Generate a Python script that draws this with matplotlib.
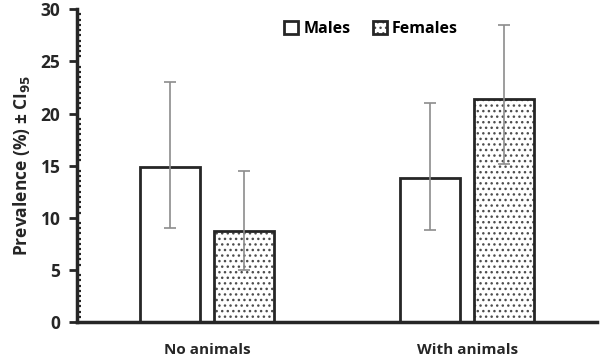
import numpy as np
from matplotlib import pyplot as plt
from matplotlib.ticker import MultipleLocator

plt.rcParams['font.family'] = ['Open Sans', 'DejaVu Sans']
plt.rcParams['hatch.linewidth'] = 1.0

groups = ['No animals', 'With animals']
males = [14.9, 13.8]
males_lo = [9.05, 8.8]
males_hi = [23.0, 21.05]
females = [8.7, 21.4]
females_lo = [5.0, 15.2]
females_hi = [14.5, 28.5]

fig = plt.figure(figsize=(6.02, 3.57), dpi=100)
ax = fig.add_axes([0.128, 0.098, 0.864, 0.876])

x = np.arange(len(groups))
w = 0.23
off = 0.143
edge = '#262626'
err_kw = dict(ecolor='#8c8c8c', elinewidth=1.2, capsize=4, capthick=1.2)

m_err = [np.array(males) - np.array(males_lo), np.array(males_hi) - np.array(males)]
f_err = [np.array(females) - np.array(females_lo), np.array(females_hi) - np.array(females)]

ax.bar(x - off, males, w, color='white', edgecolor=edge, linewidth=2.0,
       yerr=m_err, error_kw=err_kw, label='Males')
fb = ax.bar(x + off, females, w, color='white', edgecolor=edge, linewidth=2.0,
            hatch='...', yerr=f_err, error_kw=err_kw, label='Females')
for p in fb:
    p._hatch_color = (0.3, 0.3, 0.3, 1.0)

ax.set_xlim(-0.5, 1.5)
ax.set_ylim(0, 30)
ax.yaxis.set_major_locator(MultipleLocator(5))
ax.yaxis.set_minor_locator(MultipleLocator(0.5))
ax.tick_params(axis='y', which='major', direction='out', length=6, width=2,
               color=edge, labelsize=12.5, pad=6)
ax.tick_params(axis='y', which='minor', direction='in', length=3, width=1.6,
               color=edge)
ax.tick_params(axis='x', length=0, pad=15, labelsize=11)
ax.set_xticks(x)
ax.set_xticklabels(groups, fontweight='bold', color='#262626')
for lab in ax.get_yticklabels():
    lab.set_fontweight('bold')
    lab.set_color('#262626')

for s in ['top', 'right']:
    ax.spines[s].set_visible(False)
for s in ['left', 'bottom']:
    ax.spines[s].set_linewidth(2.5)
    ax.spines[s].set_color(edge)

ax.set_ylabel(r'Prevalence (%) ± CI$_{\mathbf{95}}$', fontsize=12.5,
              fontweight='bold', color='#262626', labelpad=6)

ax.legend(loc='upper center', bbox_to_anchor=(0.565, 1.01), ncol=2, frameon=False,
          handlelength=0.9, handleheight=0.9, columnspacing=1.4, handletextpad=0.3,
          prop={'weight': 'bold', 'size': 11.5})

fig.savefig('out.png', dpi=100)
